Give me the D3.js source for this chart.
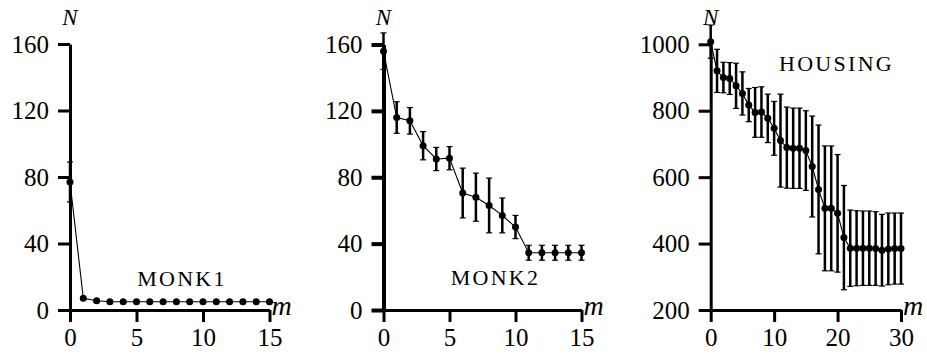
<!DOCTYPE html>
<html>
<head>
<meta charset="utf-8">
<script src="https://cdn.jsdelivr.net/npm/d3@7"></script>
</head>
<body style="margin:0">
<script>
//data: mean N per m, and half-width of the error bar
var monk1M = d3.range(0, 16);
var monk1N = [77, 7, 5.6, 5, 5, 5, 5, 5, 5, 5, 5, 5, 5, 5, 5, 5];
var monk1Err = [12, 0.6, 0.6, 0.5, 0.5, 0.5, 0.5, 0.5, 0.5, 0.5, 0.5, 0.5, 0.5, 0.5, 0.5, 0.5];

var monk2M = d3.range(0, 16);
var monk2N = [156, 116, 114, 99, 91, 91.5, 70.5, 68, 63, 57, 50, 34.5, 34.5, 34.5, 34.5, 34.5];
var monk2Err = [11, 9.5, 8, 8.5, 7, 7, 15, 14.5, 16.5, 10.5, 7, 4.5, 4.5, 4.5, 4.5, 4.5];

var housingM = d3.range(0, 31);
var housingN = [1008, 920, 900, 897, 875, 852, 817, 795, 796, 777, 747, 710, 689, 687, 687, 680,
                632, 563, 506, 506, 491, 418, 386, 386, 386, 386, 385, 380, 384, 385, 385];
var housingErr = [50, 65, 46, 48, 68, 65, 50, 75, 76, 73, 81, 140, 122, 121, 121, 120,
                  152, 194, 188, 188, 177, 157, 115, 113, 112, 112, 111, 108, 108, 107, 107];

var monk1Ticks = [0, 40, 80, 120, 160];
var housingTicks = [200, 400, 600, 800, 1000];

var width = 927,
    height = 354;

var svg = d3.select("body")
    .append("svg")
    .attr("width", width)
    .attr("height", height)
    .style("font-family", "Liberation Serif");

//one panel per data set
var panels = [
  {name: "MONK1", m: monk1M, n: monk1N, err: monk1Err, xDom: [0, 15], xTicks: [0, 5, 10, 15],
   yDom: [0, 160], yTicks: monk1Ticks, left: 70, right: 269.5, top: 44, bottom: 310,
   label: [182, 286], yAxisW: 3},
  {name: "MONK2", m: monk2M, n: monk2N, err: monk2Err, xDom: [0, 15], xTicks: [0, 5, 10, 15],
   yDom: [0, 160], yTicks: monk1Ticks, left: 383.5, right: 581.5, top: 44.5, bottom: 310,
   label: [495.5, 285], yAxisW: 4},
  {name: "HOUSING", m: housingM, n: housingN, err: housingErr, xDom: [0, 30], xTicks: [0, 10, 20, 30],
   yDom: [200, 1000], yTicks: housingTicks, left: 710.7, right: 901, top: 44.3, bottom: 310,
   label: [836.5, 71], yAxisW: 3}
];

panels.forEach(drawPanel);

function drawPanel(p){
  var x = d3.scaleLinear().domain(p.xDom).range([p.left, p.right]);
  var y = d3.scaleLinear().domain(p.yDom).range([p.bottom, p.top]);

  var g = svg.append("g");

  //axes
  var xAxis = g.append("g")
      .attr("transform", "translate(0," + p.bottom + ")")
      .call(d3.axisBottom(x).tickValues(p.xTicks).tickFormat(d3.format("d"))
          .tickSize(12).tickSizeOuter(0).tickPadding(6));

  var yAxis = g.append("g")
      .attr("transform", "translate(" + p.left + ",0)")
      .call(d3.axisLeft(y).tickValues(p.yTicks).tickFormat(d3.format("d"))
          .tickSize(12).tickSizeOuter(0).tickPadding(9));

  [xAxis, yAxis].forEach(function(a){
    a.attr("font-family", null).attr("font-size", null);
    a.selectAll("text")
        .style("font-family", function(){ return "Liberation Serif"; })
        .style("font-size", "25px")
        .attr("fill", "#000");
    a.selectAll("path, line").attr("stroke", "#000").attr("stroke-width", 3);
  });
  yAxis.selectAll("path, line").attr("stroke-width", p.yAxisW);

  //axis names
  g.append("text")
      .attr("x", p.left)
      .attr("y", 25)
      .attr("text-anchor", "middle")
      .style("font-family", function(){ return "Liberation Serif"; })
      .style("font-style", "italic")
      .style("font-size", "23px")
      .text("N");

  g.append("text")
      .attr("x", p.right + 2)
      .attr("y", p.bottom + 5)
      .style("font-family", function(){ return "Liberation Serif"; })
      .style("font-style", "italic")
      .style("font-size", "28px")
      .text("m");

  //error bars
  var bars = g.selectAll(".err")
      .data(p.m)
      .enter()
      .append("g")
      .attr("class", "err");

  bars.append("line")
      .attr("x1", function(d){ return x(d); })
      .attr("x2", function(d){ return x(d); })
      .attr("y1", function(d, i){ return y(p.n[i] - p.err[i]); })
      .attr("y2", function(d, i){ return y(p.n[i] + p.err[i]); })
      .attr("stroke", "#000")
      .attr("stroke-width", 2.5);

  [-1, 1].forEach(function(s){
    bars.append("line")
        .attr("x1", function(d){ return x(d) - 3; })
        .attr("x2", function(d){ return x(d) + 3; })
        .attr("y1", function(d, i){ return y(p.n[i] + s * p.err[i]); })
        .attr("y2", function(d, i){ return y(p.n[i] + s * p.err[i]); })
        .attr("stroke", "#000")
        .attr("stroke-width", 1.2);
  });

  //mean line
  var line = d3.line()
      .x(function(d){ return x(d); })
      .y(function(d, i){ return y(p.n[i]); });

  g.append("path")
      .datum(p.m)
      .attr("d", line)
      .attr("fill", "none")
      .attr("stroke", "#000")
      .attr("stroke-width", 1.1);

  g.selectAll(".dot")
      .data(p.m)
      .enter()
      .append("circle")
      .attr("class", "dot")
      .attr("cx", function(d){ return x(d); })
      .attr("cy", function(d, i){ return y(p.n[i]); })
      .attr("r", 3.5)
      .attr("fill", "#000");

  //data set name
  g.append("text")
      .attr("x", p.label[0])
      .attr("y", p.label[1])
      .attr("text-anchor", "middle")
      .style("font-family", function(){ return "Liberation Serif"; })
      .style("font-size", "22px")
      .style("letter-spacing", "2.3px")
      .text(p.name);
}
</script>
</body>
</html>
